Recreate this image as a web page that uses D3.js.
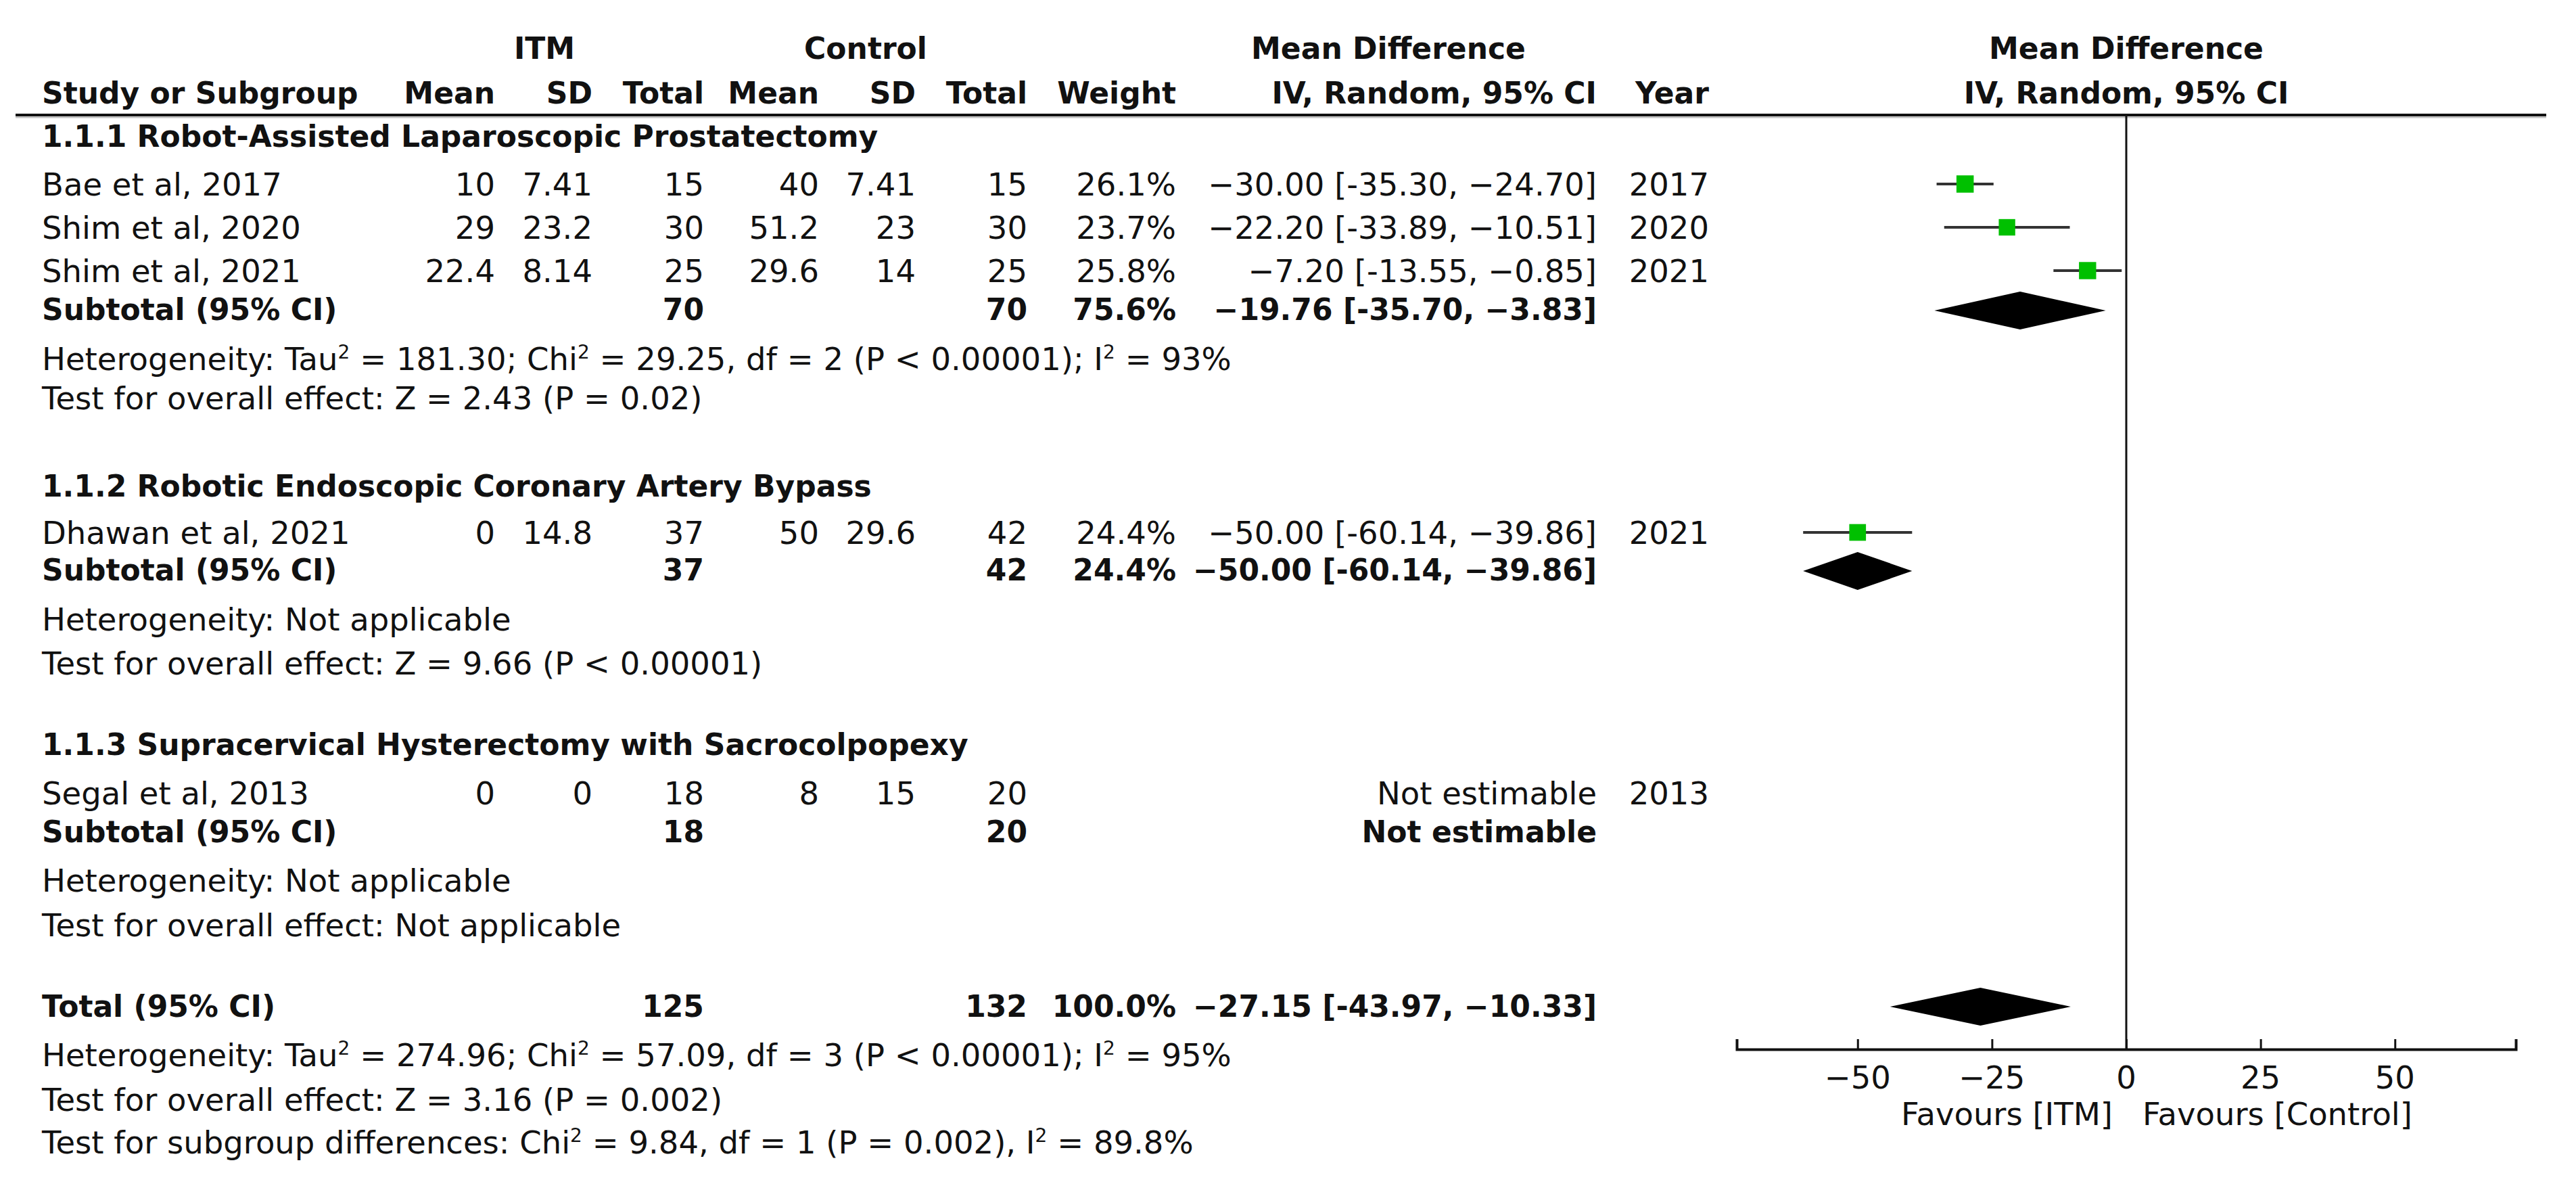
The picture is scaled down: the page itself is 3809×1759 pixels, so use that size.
<!DOCTYPE html>
<html>
<head>
<meta charset="utf-8">
<script src="https://cdn.jsdelivr.net/npm/d3@7"></script>
<style>
body { margin: 0; background: #fff; }
text { font-family: "DejaVu Sans", sans-serif; fill: #111; }
</style>
</head>
<body>
<script>
// study level data
var studies = ["Bae et al, 2017", "Shim et al, 2020", "Shim et al, 2021", "Dhawan et al, 2021", "Segal et al, 2013"];
var studyGroup = [0, 0, 0, 1, 2];
var itmMean = [10, 29, 22.4, 0, 0];
var itmSD = [7.41, 23.2, 8.14, 14.8, 0];
var itmTotal = [15, 30, 25, 37, 18];
var ctrlMean = [40, 51.2, 29.6, 50, 8];
var ctrlSD = [7.41, 23, 14, 29.6, 15];
var ctrlTotal = [15, 30, 25, 42, 20];
var weights = [26.1, 23.7, 25.8, 24.4, null];
var md = [-30.00, -22.20, -7.20, -50.00, null];
var ciLow = [-35.30, -33.89, -13.55, -60.14, null];
var ciHigh = [-24.70, -10.51, -0.85, -39.86, null];
var years = [2017, 2020, 2021, 2021, 2013];

// subgroups
var subgroups = ["1.1.1 Robot-Assisted Laparoscopic Prostatectomy",
                 "1.1.2 Robotic Endoscopic Coronary Artery Bypass",
                 "1.1.3 Supracervical Hysterectomy with Sacrocolpopexy"];
var subItmTotal = [70, 37, 18];
var subCtrlTotal = [70, 42, 20];
var subWeight = [75.6, 24.4, null];
var subMd = [-19.76, -50.00, null];
var subLow = [-35.70, -60.14, null];
var subHigh = [-3.83, -39.86, null];
var subHet = ["Heterogeneity: Tau^2 = 181.30; Chi^2 = 29.25, df = 2 (P < 0.00001); I^2 = 93%",
              "Heterogeneity: Not applicable",
              "Heterogeneity: Not applicable"];
var subTest = ["Test for overall effect: Z = 2.43 (P = 0.02)",
               "Test for overall effect: Z = 9.66 (P < 0.00001)",
               "Test for overall effect: Not applicable"];

// overall
var totItm = 125, totCtrl = 132, totWeight = 100.0;
var totMd = -27.15, totLow = -43.97, totHigh = -10.33;
var totNotes = ["Heterogeneity: Tau^2 = 274.96; Chi^2 = 57.09, df = 3 (P < 0.00001); I^2 = 95%",
                "Test for overall effect: Z = 3.16 (P = 0.002)",
                "Test for subgroup differences: Chi^2 = 9.84, df = 1 (P = 0.002), I^2 = 89.8%"];

var tickValues = [-50, -25, 0, 25, 50];
var favours = ["Favours [ITM]", "Favours [Control]"];

// layout
var W = 3809, H = 1759, fs = 46.5, fsBold = 44;
var colX = {label: 62, itmMean: 732, itmSD: 876, itmTotal: 1041, ctrlMean: 1211, ctrlSD: 1354,
            ctrlTotal: 1519, weight: 1739, effect: 2361, year: 2527};
var rowY = {h1: 87, h2: 153, line: 170,
            groups: [{title: 217, studies: [289, 353, 417], sub: 473, het: 547, test: 605},
                     {title: 734, studies: [804], sub: 858, het: 932, test: 997},
                     {title: 1116, studies: [1189], sub: 1245, het: 1318, test: 1384}],
            total: 1503, notes: [1576, 1642, 1705], axis: 1551};

var svg = d3.select("body").append("svg").attr("width", W).attr("height", H);
svg.append("rect").attr("width", W).attr("height", H).attr("fill", "#fff");

var x = d3.scaleLinear().domain([-72.5, 72.5]).range([2568, 3720]);
var f2 = d3.format(".2f"), f1 = d3.format(".1f");

function effectText(m, l, h) {
  // RevMan style: minus before the estimate and upper limit, hyphen after the bracket
  return f2(m) + " [" + f2(l).replace("\u2212", "-") + ", " + f2(h) + "]";
}

function txt(s, xx, yy, anchor, bold) {
  var t = svg.append("text")
    .attr("x", xx).attr("y", yy)
    .attr("text-anchor", anchor || "start")
    .style("font-size", (bold ? fsBold : fs) + "px")
    .style("font-weight", bold ? "bold" : "normal");
  var parts = String(s).split("^2");
  parts.forEach(function(p, i) {
    if (i > 0) {
      t.append("tspan").attr("dy", -17).style("font-size", "28px").text("2");
      t.append("tspan").attr("dy", 17).text(p);
    } else {
      t.append("tspan").text(p);
    }
  });
  return t;
}

// header
txt("ITM", 805, rowY.h1, "middle", true);
txt("Control", 1280, rowY.h1, "middle", true);
txt("Mean Difference", 2053, rowY.h1, "middle", true);
txt("Mean Difference", x(0), rowY.h1, "middle", true);
txt("Study or Subgroup", colX.label, rowY.h2, "start", true);
txt("Mean", colX.itmMean, rowY.h2, "end", true);
txt("SD", colX.itmSD, rowY.h2, "end", true);
txt("Total", colX.itmTotal, rowY.h2, "end", true);
txt("Mean", colX.ctrlMean, rowY.h2, "end", true);
txt("SD", colX.ctrlSD, rowY.h2, "end", true);
txt("Total", colX.ctrlTotal, rowY.h2, "end", true);
txt("Weight", colX.weight, rowY.h2, "end", true);
txt("IV, Random, 95% CI", colX.effect, rowY.h2, "end", true);
txt("Year", colX.year, rowY.h2, "end", true);
txt("IV, Random, 95% CI", x(0), rowY.h2, "middle", true);

svg.append("line").attr("x1", 23).attr("x2", 3765).attr("y1", rowY.line).attr("y2", rowY.line)
  .attr("stroke", "#111").attr("stroke-width", 4);
svg.append("line").attr("x1", 23).attr("x2", 3765).attr("y1", rowY.line + 3.5).attr("y2", rowY.line + 3.5)
  .attr("stroke", "#bbb").attr("stroke-width", 2);

// zero line
svg.append("line").attr("x1", x(0)).attr("x2", x(0)).attr("y1", rowY.line).attr("y2", rowY.axis)
  .attr("stroke", "#111").attr("stroke-width", 3);

function diamond(m, l, h, yc) {
  var hh = 28;
  svg.append("path")
    .attr("d", "M" + x(l) + "," + yc + "L" + x(m) + "," + (yc - hh) + "L" + x(h) + "," + yc +
               "L" + x(m) + "," + (yc + hh) + "Z")
    .attr("fill", "#000");
}

subgroups.forEach(function(g, gi) {
  var ly = rowY.groups[gi];
  txt(g, colX.label, ly.title, "start", true);
  var idx = studies.map(function(d, i) { return i; }).filter(function(i) { return studyGroup[i] === gi; });
  idx.forEach(function(i, k) {
    var yy = ly.studies[k];
    txt(studies[i], colX.label, yy);
    txt(itmMean[i], colX.itmMean, yy, "end");
    txt(itmSD[i], colX.itmSD, yy, "end");
    txt(itmTotal[i], colX.itmTotal, yy, "end");
    txt(ctrlMean[i], colX.ctrlMean, yy, "end");
    txt(ctrlSD[i], colX.ctrlSD, yy, "end");
    txt(ctrlTotal[i], colX.ctrlTotal, yy, "end");
    if (weights[i] !== null) {
      txt(f1(weights[i]) + "%", colX.weight, yy, "end");
      txt(effectText(md[i], ciLow[i], ciHigh[i]), colX.effect, yy, "end");
      var yc = yy - 17;
      svg.append("line").attr("x1", x(ciLow[i])).attr("x2", x(ciHigh[i]))
        .attr("y1", yc).attr("y2", yc).attr("stroke", "#333").attr("stroke-width", 4);
      var side = 5 * Math.sqrt(weights[i]);
      svg.append("rect").attr("x", x(md[i]) - side / 2).attr("y", yc - side / 2)
        .attr("width", side).attr("height", side).attr("fill", "#00c000");
    } else {
      txt("Not estimable", colX.effect, yy, "end");
    }
    txt(years[i], colX.year, yy, "end");
  });
  txt("Subtotal (95% CI)", colX.label, ly.sub, "start", true);
  txt(subItmTotal[gi], colX.itmTotal, ly.sub, "end", true);
  txt(subCtrlTotal[gi], colX.ctrlTotal, ly.sub, "end", true);
  if (subWeight[gi] !== null) {
    txt(f1(subWeight[gi]) + "%", colX.weight, ly.sub, "end", true);
    txt(effectText(subMd[gi], subLow[gi], subHigh[gi]), colX.effect, ly.sub, "end", true);
    diamond(subMd[gi], subLow[gi], subHigh[gi], ly.sub - 14);
  } else {
    txt("Not estimable", colX.effect, ly.sub, "end", true);
  }
  txt(subHet[gi], colX.label, ly.het);
  txt(subTest[gi], colX.label, ly.test);
});

// overall
txt("Total (95% CI)", colX.label, rowY.total, "start", true);
txt(totItm, colX.itmTotal, rowY.total, "end", true);
txt(totCtrl, colX.ctrlTotal, rowY.total, "end", true);
txt(f1(totWeight) + "%", colX.weight, rowY.total, "end", true);
txt(effectText(totMd, totLow, totHigh), colX.effect, rowY.total, "end", true);
diamond(totMd, totLow, totHigh, rowY.total - 15);
totNotes.forEach(function(n, i) { txt(n, colX.label, rowY.notes[i]); });

// axis
var axis = d3.axisTop(x).tickValues(tickValues).tickSize(15).tickFormat(d3.format("d"));
var ag = svg.append("g").attr("transform", "translate(0," + rowY.axis + ")").call(axis);
ag.select(".domain").attr("stroke", "#111").attr("stroke-width", 4);
ag.selectAll(".tick line").attr("stroke", "#111").attr("stroke-width", 3);
ag.selectAll(".tick text").remove();
tickValues.forEach(function(v) {
  txt(d3.format("d")(v), x(v), 1609, "middle");
});
txt(favours[0], x(0) - 20, 1663, "end");
txt(favours[1], x(0) + 24, 1663, "start");
</script>
</body>
</html>
